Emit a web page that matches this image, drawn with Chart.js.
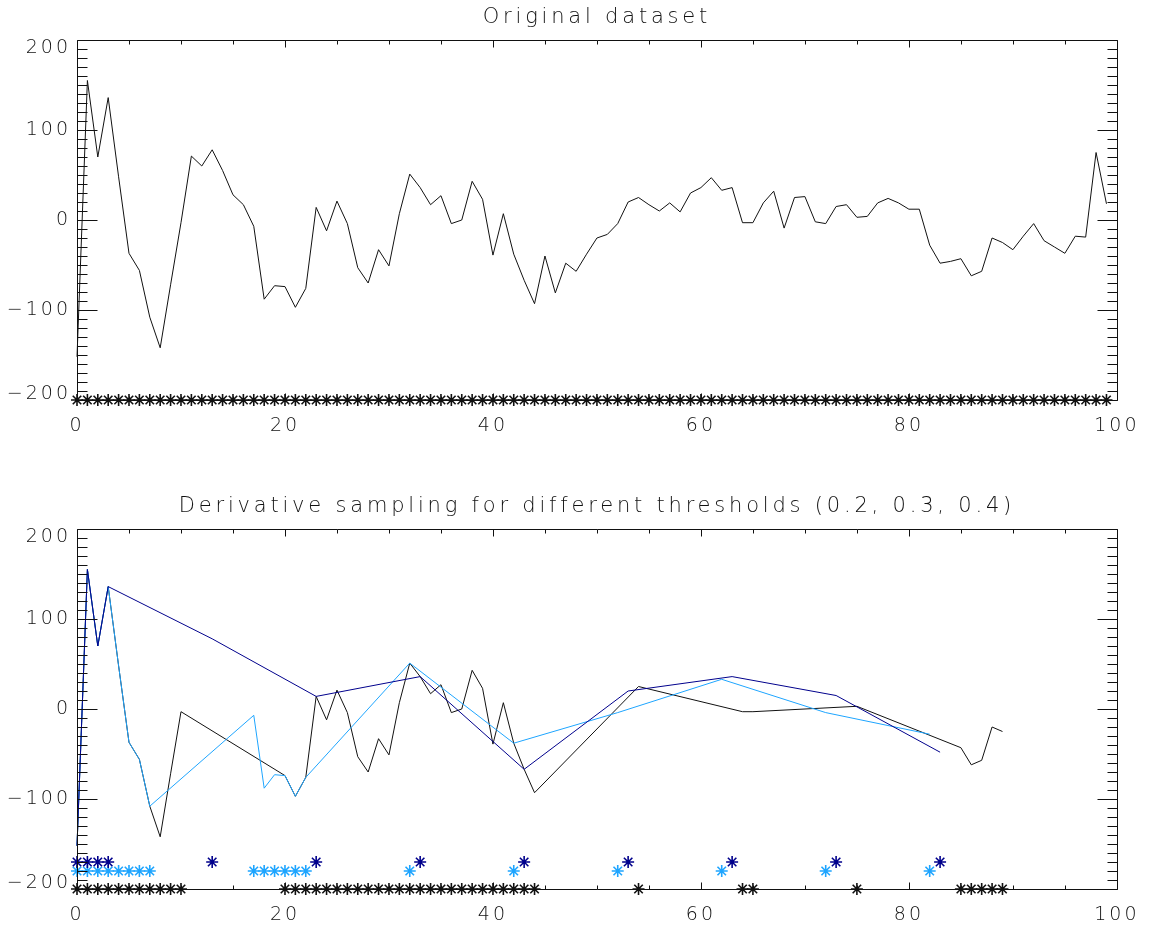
<!DOCTYPE html>
<html>
<head>
<meta charset="utf-8">
<script src="https://cdn.jsdelivr.net/npm/chart.js@4.4.1/dist/chart.umd.min.js"></script>
<style>
  body { margin: 0; background: #fff; overflow: hidden; }
  canvas { position: absolute; left: 0; }
  #topChart { top: 0; }
  #bottomChart { top: 489px; }
</style>
</head>
<body>
<canvas id="topChart" width="1150" height="440"></canvas>
<canvas id="bottomChart" width="1150" height="440"></canvas>
<script>
// Original dataset, one value per sample index 0..99
const signal = [
  -152, 155, 70, 136, 48, -37, -56, -108, -142, -72,
  -3, 71, 60, 78, 55, 28, 17, -7, -88, -73,
  -74, -97, -76, 14, -12, 21, -4, -53, -70, -33,
  -51, 7, 51, 36, 17, 27, -4, 0, 43, 23,
  -39, 7, -38, -67, -93, -40, -81, -48, -57, -38,
  -20, -16, -4, 20, 25, 17, 10, 19, 9, 30,
  36, 47, 33, 36, -3, -3, 19, 32, -9, 25,
  26, -2, -4, 15, 17, 3, 4, 19, 24, 19,
  12, 12, -28, -48, -46, -43, -62, -57, -20, -25,
  -33, -18, -4, -23, -30, -37, -18, -19, 75, 18
];

// indices kept by derivative sampling for each threshold
const keep02 = [0, 1, 2, 3, 4, 5, 6, 7, 8, 9, 10,
  20, 21, 22, 23, 24, 25, 26, 27, 28, 29, 30, 31, 32, 33, 34, 35, 36, 37, 38, 39, 40, 41, 42, 43, 44,
  54, 64, 65, 75, 85, 86, 87, 88, 89];
const keep03 = [0, 1, 2, 3, 4, 5, 6, 7, 17, 18, 19, 20, 21, 22, 32, 42, 52, 62, 72, 82];
const keep04 = [0, 1, 2, 3, 13, 23, 33, 43, 53, 63, 73, 83];

// y level of the asterisk rows
const markTop = -200;
const mark02 = -200;
const mark03 = -180;
const mark04 = -170;

const xTicks = [0, 20, 40, 60, 80, 100];
const yTicks = [-200, -100, 0, 100, 200];

const titles = ['Original dataset', 'Derivative sampling for different thresholds (0.2, 0.3, 0.4)'];

const INK = '#111';
const DARK = '#00008c';
const LIGHT = '#1ea5ff';
const FONT = "'DejaVu Sans', sans-serif";

const sampled = idx => idx.map(i => ({ x: i, y: signal[i] }));
const marks = (idx, lvl) => idx.map(i => ({ x: i, y: lvl }));
const fmt = v => v < 0 ? '\u2212' + Math.abs(v) : String(v);

// end labels sit inside the frame, as IDL draws them
const yLabel = v => {
  const s = fmt(v);
  if (v === 200) return ['', s];
  if (v === -200) return [s, ''];
  return s;
};
const yFont = ctx => {
  const v = ctx.tick && ctx.tick.value;
  const lh = v === 200 ? 16 : v === -200 ? 12 : 1.2;
  return { family: FONT, size: 19, weight: '200', lineHeight: v === 200 || v === -200 ? lh + 'px' : lh };
};

// IDL style frame: box with inward major/minor ticks, plus the title
const idlFrame = {
  id: 'idlFrame',
  beforeDraw(chart) {
    chart.ctx.letterSpacing = '3px';
  },
  afterDraw(chart, args, opts) {
    const { ctx, chartArea: a, scales: { x, y } } = chart;
    ctx.save();
    ctx.strokeStyle = INK;
    ctx.lineWidth = 1;
    ctx.beginPath();
    const L = Math.round(a.left) + 0.5, R = Math.round(a.right) + 0.5;
    const T = Math.round(a.top) + 0.5, B = Math.round(a.bottom) + 0.5;
    ctx.rect(L, T, R - L, B - T);
    for (let v = -200; v <= 200; v += 10) {
      const py = Math.round(y.getPixelForValue(v)) + 0.5;
      const len = v % 100 === 0 ? 20 : 10;
      ctx.moveTo(L, py); ctx.lineTo(L + len, py);
      ctx.moveTo(R, py); ctx.lineTo(R - len, py);
    }
    for (let v = 0; v <= 100; v += 5) {
      const px = Math.round(x.getPixelForValue(v)) + 0.5;
      const len = v % 20 === 0 ? 7 : 4;
      ctx.moveTo(px, B); ctx.lineTo(px, B - len);
      ctx.moveTo(px, T); ctx.lineTo(px, T + len);
    }
    ctx.stroke();
    ctx.letterSpacing = '3.8px';
    ctx.fillStyle = INK;
    ctx.font = '200 21px ' + FONT;
    ctx.textAlign = 'center';
    ctx.textBaseline = 'middle';
    ctx.fillText(opts.text, (a.left + a.right) / 2, 18);
    ctx.restore();
  }
};

function makeOptions(title) {
  return {
    responsive: false,
    animation: false,
    layout: { padding: { top: 40, right: 28, left: 0, bottom: 0 } },
    plugins: { legend: { display: false }, tooltip: { enabled: false }, idlFrame: { text: title } },
    elements: { line: { tension: 0 } },
    scales: {
      x: {
        type: 'linear', min: 0, max: 100,
        afterBuildTicks: s => { s.ticks = xTicks.map(v => ({ value: v })); },
        afterFit: s => { s.height = 40; },
        grid: { display: false, drawTicks: false },
        border: { display: false },
        ticks: { padding: 15, maxRotation: 0, color: INK, font: { family: FONT, size: 19, weight: '200' }, callback: fmt }
      },
      y: {
        min: -200, max: 200,
        afterBuildTicks: s => { s.ticks = yTicks.map(v => ({ value: v })); },
        afterFit: s => { s.width = 77; },
        grid: { display: false, drawTicks: false },
        border: { display: false },
        ticks: { padding: 6, color: INK, font: yFont, callback: yLabel }
      }
    }
  };
}

const lineDs = (data, color) => ({
  type: 'line', data, borderColor: color, borderWidth: 1, pointRadius: 0, fill: false, clip: false
});
const starDs = (data, color) => ({
  type: 'scatter', data, showLine: false, pointStyle: 'star', pointRadius: 6,
  borderColor: color, backgroundColor: color, borderWidth: 1.6, clip: false
});

new Chart(document.getElementById('topChart'), {
  type: 'scatter',
  data: {
    datasets: [
      lineDs(sampled(signal.map((_, i) => i)), INK),
      starDs(marks(signal.map((_, i) => i), markTop), INK)
    ]
  },
  options: makeOptions(titles[0]),
  plugins: [idlFrame]
});

new Chart(document.getElementById('bottomChart'), {
  type: 'scatter',
  data: {
    datasets: [
      lineDs(sampled(keep04), DARK),
      lineDs(sampled(keep03), LIGHT),
      lineDs(sampled(keep02), INK),
      starDs(marks(keep04, mark04), DARK),
      starDs(marks(keep03, mark03), LIGHT),
      starDs(marks(keep02, mark02), INK)
    ]
  },
  options: makeOptions(titles[1]),
  plugins: [idlFrame]
});
</script>
</body>
</html>
